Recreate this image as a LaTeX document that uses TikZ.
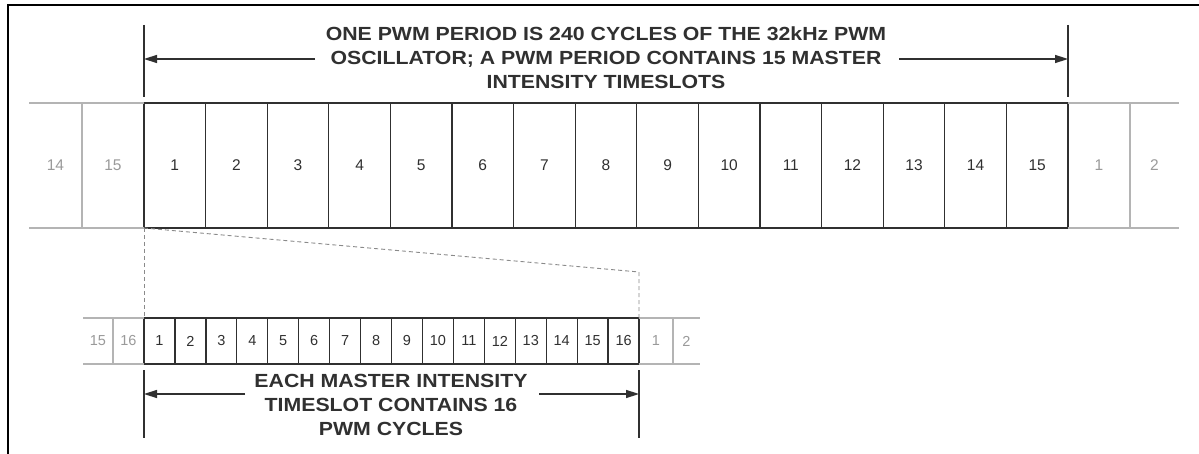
\documentclass[tikz,border=0pt]{standalone}
\usepackage{fontspec}
\setmainfont{Liberation Sans}
\newfontfamily\titlefont[FakeStretch=1.12]{Liberation Sans}
\usetikzlibrary{arrows.meta,calc}
\definecolor{lineblk}{HTML}{303030}
\definecolor{greyln}{HTML}{B4B4B4}
\definecolor{greytx}{HTML}{9A9A9A}
\definecolor{dashgr}{HTML}{8A8A8A}
\begin{document}
\begin{tikzpicture}[x=1pt,y=-1pt,
  bigcell/.style={draw=lineblk, line width=1.3pt, minimum width=61.6pt, minimum height=125pt, inner sep=0pt, outer sep=0pt, anchor=north west, font=\fontsize{15.5}{15.5}\selectfont, text=lineblk},
  smallcell/.style={draw=lineblk, line width=1.3pt, minimum width=30.94pt, minimum height=46pt, inner sep=0pt, outer sep=0pt, anchor=north west, font=\fontsize{14.5}{14.5}\selectfont, text=lineblk},
  greytext/.style={inner sep=0pt, text=greytx},
  greyline/.style={draw=greyln, line width=1.2pt},
  tickline/.style={draw=lineblk, line width=1.4pt},
  arr/.style={draw=lineblk, line width=1.5pt, -{Triangle[length=13pt,width=8pt]}},
  dashline/.style={draw=dashgr, line width=0.9pt, dash pattern=on 4pt off 3pt},
  title/.style={align=center, inner sep=0pt, font=\titlefont\bfseries\fontsize{19}{24}\selectfont, text=lineblk},
  frameline/.style={draw=black, line width=2pt}
]
\useasboundingbox (0,0) rectangle (1199,454);
\fill[white] (0,0) rectangle (1199,454);
\draw[frameline] (8,454) -- (8,5) -- (1199,5);

% top row
\foreach \i in {1,...,15} {
  \node[bigcell] (b\i) at ({144+61.6*(\i-1)},103) {\i};
}
\node[greytext, font=\fontsize{15.5}{15.5}\selectfont] (gl14) at (55.5,165.5) {14};
\node[greytext, font=\fontsize{15.5}{15.5}\selectfont] (gl15) at (113,165.5) {15};
\node[greytext, font=\fontsize{15.5}{15.5}\selectfont] (gr1) at (1099,165.5) {1};
\node[greytext, font=\fontsize{15.5}{15.5}\selectfont] (gr2) at (1154.5,165.5) {2};
\draw[greyline] (29,103) -- (b1.north west);
\draw[greyline] (29,228) -- (b1.south west);
\draw[greyline] (82,103) -- (82,228);
\draw[greyline] (b15.north east) -- (1179,103);
\draw[greyline] (b15.south east) -- (1179,228);
\draw[greyline] (1130,103) -- (1130,228);

% top caption
\coordinate (ta1) at (144,25);
\coordinate (ta2) at (144,97);
\coordinate (tb1) at (1068,25);
\coordinate (tb2) at (1068,97);
\draw[tickline] (ta1) -- (ta2);
\draw[tickline] (tb1) -- (tb2);
\node[title] (ttop) at (606,58) {ONE PWM PERIOD IS 240 CYCLES OF THE 32kHz PWM\\OSCILLATOR; A PWM PERIOD CONTAINS 15 MASTER\\INTENSITY TIMESLOTS};
\coordinate (tyl) at (144,59);
\coordinate (tyr) at (1068,59);
\draw[arr] (315,59) -- (tyl);
\draw[arr] (899,59) -- (tyr);

% bottom row
\foreach \i in {1,...,16} {
  \node[smallcell] (s\i) at ({144+30.94*(\i-1)},318) {\i};
}
\node[greytext, font=\fontsize{14.5}{14.5}\selectfont] (sl15) at (98,341) {15};
\node[greytext, font=\fontsize{14.5}{14.5}\selectfont] (sl16) at (128.5,341) {16};
\node[greytext, font=\fontsize{14.5}{14.5}\selectfont] (sr1) at (656,341) {1};
\node[greytext, font=\fontsize{14.5}{14.5}\selectfont] (sr2) at (686.5,341) {2};
\draw[greyline] (83,318) -- (s1.north west);
\draw[greyline] (83,364) -- (s1.south west);
\draw[greyline] (113,318) -- (113,364);
\draw[greyline] (s16.north east) -- (700,318);
\draw[greyline] (s16.south east) -- (700,364);
\draw[greyline] (673,318) -- (673,364);

% zoom dashed lines
\coordinate (zc) at (639,272);
\draw[dashline] (b1.south west) -- (s1.north west);
\draw[dashline] (b1.south west) -- (zc) -- (s16.north east);

% bottom caption
\coordinate (ba1) at (144,370);
\coordinate (ba2) at (144,438);
\coordinate (bb1) at (639,370);
\coordinate (bb2) at (639,438);
\draw[tickline] (ba1) -- (ba2);
\draw[tickline] (bb1) -- (bb2);
\node[title] (tbot) at (391,405) {EACH MASTER INTENSITY\\TIMESLOT CONTAINS 16\\PWM CYCLES};
\coordinate (byl) at (144,394);
\coordinate (byr) at (639,394);
\draw[arr] (245,394) -- (byl);
\draw[arr] (539,394) -- (byr);
\end{tikzpicture}
\end{document}
